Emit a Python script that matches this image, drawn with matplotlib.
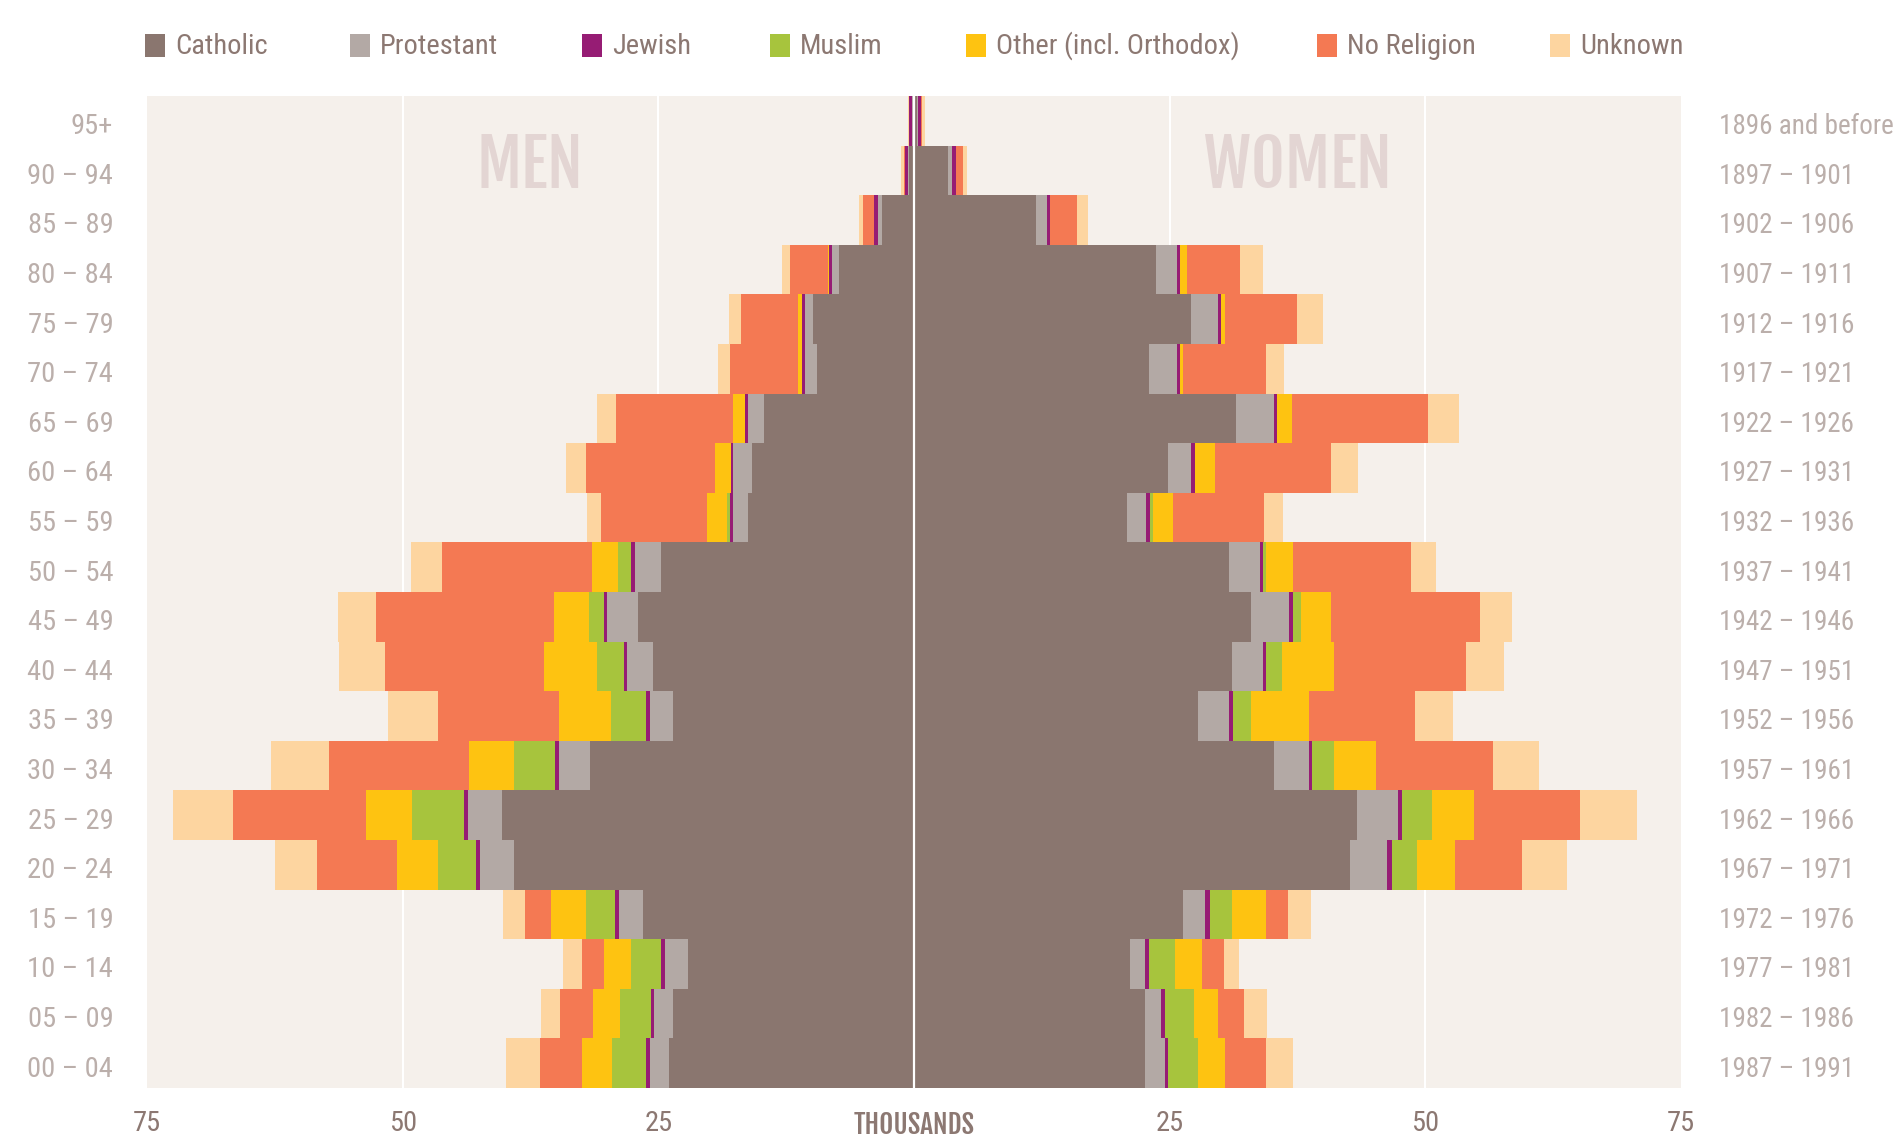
import matplotlib
matplotlib.use("Agg")
import matplotlib.pyplot as plt
from matplotlib import font_manager
from matplotlib.patches import Rectangle
import numpy as np

# ---- data (thousands), index 0 = 00-04 ... 19 = 95+
ages = ["00 – 04", "05 – 09", "10 – 14", "15 – 19", "20 – 24", "25 – 29", "30 – 34",
        "35 – 39", "40 – 44", "45 – 49", "50 – 54", "55 – 59", "60 – 64", "65 – 69",
        "70 – 74", "75 – 79", "80 – 84", "85 – 89", "90 – 94", "95+"]
cohorts = ["1987 – 1991", "1982 – 1986", "1977 – 1981", "1972 – 1976", "1967 – 1971",
           "1962 – 1966", "1957 – 1961", "1952 – 1956", "1947 – 1951", "1942 – 1946",
           "1937 – 1941", "1932 – 1936", "1927 – 1931", "1922 – 1926", "1917 – 1921",
           "1912 – 1916", "1907 – 1911", "1902 – 1906", "1897 – 1901", "1896 and before"]
religions = ["Catholic", "Protestant", "Jewish", "Muslim", "Other (incl. Orthodox)",
             "No Religion", "Unknown"]

men_catholic = [24.0, 23.6, 22.1, 26.5, 39.1, 40.3, 31.7, 23.6, 25.5, 27.0,
                24.7, 16.2, 15.8, 14.7, 9.5, 9.9, 7.3, 3.1, 0.45, 0.1]
men_protestant = [1.85, 1.85, 2.2, 2.3, 3.3, 3.3, 3.0, 2.2, 2.6, 3.0,
                  2.6, 1.5, 1.9, 1.5, 1.2, 0.8, 0.75, 0.4, 0.1, 0.05]
men_jewish = [0.4, 0.3, 0.4, 0.4, 0.4, 0.4, 0.4, 0.4, 0.3, 0.3,
              0.4, 0.3, 0.2, 0.3, 0.3, 0.3, 0.3, 0.4, 0.35, 0.35]
men_muslim = [3.3, 3.0, 3.0, 2.9, 3.7, 5.1, 4.0, 3.4, 2.6, 1.5,
              1.2, 0.3, 0.0, 0.0, 0.0, 0.0, 0.0, 0.0, 0.0, 0.0]
men_other = [2.9, 2.6, 2.6, 3.4, 4.1, 4.5, 4.45, 5.1, 5.2, 3.4,
             2.6, 1.9, 1.6, 1.2, 0.3, 0.3, 0.1, 0.05, 0.0, 0.0]
men_norel = [4.1, 3.3, 2.2, 2.5, 7.8, 13.0, 13.7, 11.8, 15.5, 17.4,
             14.7, 10.4, 12.6, 11.4, 6.7, 5.6, 3.7, 1.0, 0.05, 0.0]
men_unknown = [3.3, 1.85, 1.85, 2.2, 4.1, 5.9, 5.6, 4.9, 4.5, 3.7,
               3.0, 1.4, 1.9, 1.85, 1.2, 1.2, 0.75, 0.4, 0.35, 0.07]

women_catholic = [22.6, 22.6, 21.1, 26.3, 42.6, 43.3, 35.2, 27.8, 31.1, 33.0,
                  30.8, 20.8, 24.8, 31.5, 23.0, 27.1, 23.7, 11.9, 3.3, 0.3]
women_protestant = [1.9, 1.6, 1.5, 2.2, 3.7, 4.0, 3.4, 3.0, 3.0, 3.7,
                    3.0, 1.9, 2.3, 3.7, 2.7, 2.65, 2.0, 1.1, 0.4, 0.05]
women_jewish = [0.3, 0.3, 0.4, 0.4, 0.4, 0.4, 0.3, 0.4, 0.3, 0.4,
                0.3, 0.4, 0.4, 0.3, 0.3, 0.3, 0.3, 0.3, 0.4, 0.35]
women_muslim = [3.0, 2.9, 2.5, 2.2, 2.5, 3.0, 2.2, 1.8, 1.6, 0.7,
                0.3, 0.25, 0.0, 0.0, 0.0, 0.0, 0.0, 0.0, 0.0, 0.0]
women_other = [2.65, 2.3, 2.65, 3.3, 3.7, 4.1, 4.1, 5.6, 5.1, 3.0,
               2.65, 2.0, 1.9, 1.5, 0.3, 0.4, 0.7, 0.0, 0.0, 0.0]
women_norel = [4.0, 2.6, 2.2, 2.2, 6.6, 10.3, 11.4, 10.4, 12.9, 14.5,
               11.5, 8.9, 11.4, 13.3, 8.1, 7.0, 5.2, 2.6, 0.7, 0.05]
women_unknown = [2.6, 2.2, 1.45, 2.2, 4.4, 5.6, 4.5, 3.7, 3.7, 3.2,
                 2.5, 1.8, 2.65, 3.0, 1.8, 2.5, 2.2, 1.1, 0.4, 0.3]

x_ticks = [-75, -50, -25, 0, 25, 50, 75]
x_tick_labels = ["75", "50", "25", "THOUSANDS", "25", "50", "75"]

# ---- style
colors = ["#8a766f", "#b3a9a5", "#961c74", "#a7c43d", "#fec311", "#f47953", "#fdd5a0"]
bg = "#f5f0eb"
label_col = "#bbafab"
text_col = "#8c7872"
watermark_col = "#e3d5d3"

# condensed font if there is one, else plain Roboto a bit smaller
avail = {f.name for f in font_manager.fontManager.ttflist}
fam, k = ["Roboto", "DejaVu Sans"], 0.85
for name in ["Roboto Condensed", "Archivo Narrow", "Liberation Sans Narrow", "Barlow Semi Condensed"]:
    if name in avail:
        fam, k = [name, "DejaVu Sans"], 1.0
        break
head, hk = fam, k
for name in ["Fjalla One", "Pathway Gothic One"]:
    if name in avail:
        head, hk = [name, "DejaVu Sans"], 1.0
        break
plt.rcParams["font.family"] = fam

W, H = 1895, 1138
fig = plt.figure(figsize=(W / 100, H / 100), dpi=100)
fig.patch.set_facecolor("white")
ax = fig.add_axes([147 / W, 1 - 1088 / H, (1681 - 147) / W, (1088 - 96) / H])
ax.set_facecolor(bg)
for s in ax.spines.values():
    s.set_visible(False)

y = np.arange(len(ages))
men = [men_catholic, men_protestant, men_jewish, men_muslim, men_other, men_norel, men_unknown]
women = [women_catholic, women_protestant, women_jewish, women_muslim, women_other,
         women_norel, women_unknown]

for g in [-50, -25, 25, 50]:
    ax.axvline(g, color="white", lw=1.5, zorder=0.5)

left_m = np.zeros(len(ages))
left_w = np.zeros(len(ages))
for i in range(len(religions)):
    vm = np.array(men[i])
    vw = np.array(women[i])
    ax.barh(y, -vm, left=-left_m, height=1.0, color=colors[i], linewidth=0, zorder=2)
    ax.barh(y, vw, left=left_w, height=1.0, color=colors[i], linewidth=0, zorder=2)
    left_m += vm
    left_w += vw

ax.axvline(0, color="white", lw=1.6, zorder=3)

ax.set_xlim(-75, 75)
ax.set_ylim(-0.5, len(ages) - 0.5)
ax.set_yticks([])
ax.set_xticks(x_ticks)
ax.set_xticklabels(x_tick_labels)
ax.tick_params(axis="x", length=0, pad=16, labelsize=20.5 * k, labelcolor=text_col)
for t in ax.get_xticklabels():
    if t.get_text() == "THOUSANDS":
        t.set_family(head)
        t.set_fontweight("bold")
        t.set_fontsize(19.5 * hk)

# age / cohort labels
trans = ax.get_yaxis_transform()
for i in range(len(ages)):
    ax.text(-0.022, y[i] - 0.12, ages[i], transform=trans, ha="right", va="center",
            fontsize=20.5 * k, color=label_col, clip_on=False)
    ax.text(1.025, y[i] - 0.12, cohorts[i], transform=trans, ha="left", va="center",
            fontsize=19.5 * k, color=label_col, clip_on=False)

ax.text(-37.6, 18.08, "MEN", ha="center", va="center", fontsize=47 * hk,
        fontweight="bold", color=watermark_col, zorder=1, family=head)
ax.text(37.5, 18.08, "WOMEN", ha="center", va="center", fontsize=47 * hk,
        fontweight="bold", color=watermark_col, zorder=1, family=head)

# legend
sq_x = [145, 350, 582, 770, 966, 1317, 1550]
for i, name in enumerate(religions):
    fig.add_artist(Rectangle((sq_x[i] / W, 1 - 57 / H), 20 / W, 23 / H,
                             transform=fig.transFigure, color=colors[i], lw=0))
    fig.text((sq_x[i] + 30) / W, 1 - 46 / H, name, ha="left", va="center",
             fontsize=20.5 * k, color=text_col)

fig.savefig("out.png", dpi=100, facecolor="white")
